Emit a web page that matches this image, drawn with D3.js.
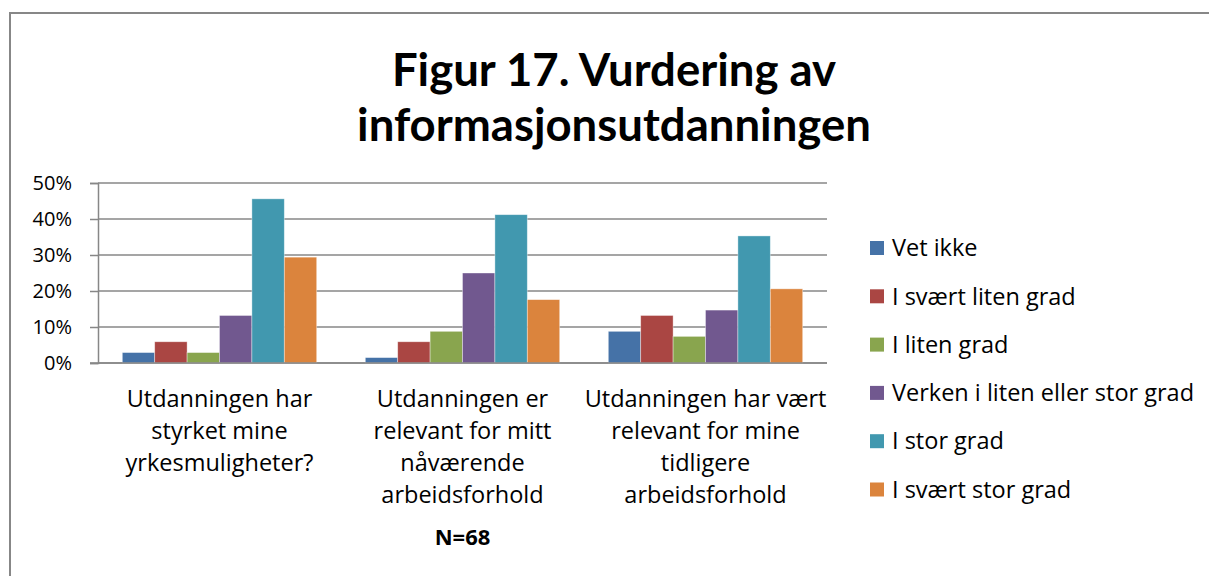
<!DOCTYPE html>
<html>
<head>
<meta charset="utf-8">
<script src="https://cdn.jsdelivr.net/npm/d3@7"></script>
<style>
  body { margin: 0; background: #fff; }
  svg { display: block; font-family: "Open Sans", sans-serif; }
</style>
</head>
<body>
<div id="chart"></div>
<script>
var w = 1209;
var h = 576;

// data
var categories = [
	["Utdanningen har", "styrket mine", "yrkesmuligheter?"],
	["Utdanningen er", "relevant for mitt", "nåværende", "arbeidsforhold"],
	["Utdanningen har vært", "relevant for mine", "tidligere", "arbeidsforhold"]
];
var seriesNames = ["Vet ikke", "I svært liten grad", "I liten grad",
	"Verken i liten eller stor grad", "I stor grad", "I svært stor grad"];
var seriesColors = ["#4572A7", "#AA4643", "#89A54E", "#71588F", "#4198AF", "#DB843D"];
var vetIkke = [2.9, 1.5, 8.8];
var svaertLiten = [5.9, 5.9, 13.2];
var liten = [2.9, 8.8, 7.4];
var verken = [13.2, 25.0, 14.7];
var stor = [45.6, 41.2, 35.3];
var svaertStor = [29.4, 17.6, 20.6];
var yTicks = [0, 10, 20, 30, 40, 50];
var titleLines = ["Figur 17. Vurdering av", "informasjonsutdanningen"];
var note = "N=68";

var seriesValues = [vetIkke, svaertLiten, liten, verken, stor, svaertStor];

var margin = { left: 98, right: 827, top: 183, bottom: 363 };

var svg = d3.select('#chart')
	.append('svg')
	.attr('width', w)
	.attr('height', h);

// outer frame
svg.append('rect')
	.attr('x', 10)
	.attr('y', 13)
	.attr('width', w + 10)
	.attr('height', h + 10)
	.attr('fill', 'none')
	.attr('stroke', '#878787')
	.attr('stroke-width', 2);

// title
svg.append('g')
	.selectAll('text')
	.data(titleLines)
	.enter()
	.append('text')
	.attr('x', 614)
	.attr('y', function(d, i) { return 86 + i * 55; })
	.attr('text-anchor', 'middle')
	.attr('font-family', 'Lato, sans-serif')
	.attr('font-size', '45.5px')
	.attr('font-weight', 'bold')
	.attr('fill', '#000')
	.text(function(d) { return d; });

var x0 = d3.scaleBand()
	.domain(d3.range(categories.length))
	.range([margin.left, margin.right]);

var x1 = d3.scaleBand()
	.domain(d3.range(seriesNames.length))
	.range([0, x0.bandwidth()])
	.paddingOuter(0.75);

var y = d3.scaleLinear()
	.domain([0, 50])
	.range([margin.bottom, margin.top]);

// gridlines
svg.append('g')
	.selectAll('line')
	.data(yTicks)
	.enter()
	.append('line')
	.attr('x1', margin.left)
	.attr('x2', margin.right)
	.attr('y1', function(d) { return y(d); })
	.attr('y2', function(d) { return y(d); })
	.attr('stroke', '#878787')
	.attr('stroke-width', 1.5);

// y axis
var yAxis = d3.axisLeft(y)
	.tickValues(yTicks)
	.tickSize(8)
	.tickPadding(18)
	.tickFormat(function(d) { return d + '%'; });

var ya = svg.append('g')
	.attr('transform', 'translate(' + margin.left + ',0)')
	.call(yAxis);
ya.select('.domain').attr('stroke', '#878787').attr('stroke-width', 1.5);
ya.selectAll('.tick line').attr('stroke', '#878787').attr('stroke-width', 1.5);
ya.selectAll('.tick text')
	.attr('font-size', '20px')
	.attr('font-family', '"Open Sans", sans-serif')
	.attr('fill', '#000');

// bars
var groups = svg.append('g')
	.selectAll('g')
	.data(categories)
	.enter()
	.append('g')
	.attr('transform', function(d, i) { return 'translate(' + x0(i) + ',0)'; });

groups.selectAll('rect')
	.data(function(d, ci) {
		return seriesValues.map(function(vals, si) { return { s: si, v: vals[ci] }; });
	})
	.enter()
	.append('rect')
	.attr('x', function(d) { return x1(d.s); })
	.attr('width', x1.bandwidth())
	.attr('y', function(d) { return y(d.v); })
	.attr('height', function(d) { return y(0) - y(d.v); })
	.attr('fill', function(d) { return seriesColors[d.s]; })
	.attr('stroke', 'rgba(255,255,255,0.5)')
	.attr('stroke-width', 0.75);

// baseline on top of bars
svg.append('line')
	.attr('x1', margin.left - 8)
	.attr('x2', margin.right)
	.attr('y1', y(0))
	.attr('y2', y(0))
	.attr('stroke', '#878787')
	.attr('stroke-width', 1.5);

// category labels
var catLabels = svg.append('g')
	.selectAll('text')
	.data(categories)
	.enter()
	.append('text')
	.attr('text-anchor', 'middle')
	.attr('font-size', '23.5px')
	.attr('fill', '#000');

catLabels.selectAll('tspan')
	.data(function(d, i) { return d.map(function(line) { return { line: line, i: i }; }); })
	.enter()
	.append('tspan')
	.attr('x', function(d) { return x0(d.i) + x0.bandwidth() / 2; })
	.attr('y', function(d, j) { return 407 + j * 32; })
	.text(function(d) { return d.line; });

svg.append('text')
	.attr('x', x0(1) + x0.bandwidth() / 2)
	.attr('y', 545)
	.attr('text-anchor', 'middle')
	.attr('font-size', '22px')
	.attr('font-weight', 'bold')
	.attr('fill', '#000')
	.text(note);

// legend
var legend = svg.append('g')
	.selectAll('g')
	.data(seriesNames)
	.enter()
	.append('g')
	.attr('transform', function(d, i) { return 'translate(870,' + (248 + i * 48.3) + ')'; });

legend.append('rect')
	.attr('x', 0)
	.attr('y', -7)
	.attr('width', 14)
	.attr('height', 14)
	.attr('fill', function(d, i) { return seriesColors[i]; });

legend.append('text')
	.attr('x', 22)
	.attr('y', 0)
	.attr('dy', '.35em')
	.attr('font-size', '23.5px')
	.attr('fill', '#000')
	.text(function(d) { return d; });
</script>
</body>
</html>
